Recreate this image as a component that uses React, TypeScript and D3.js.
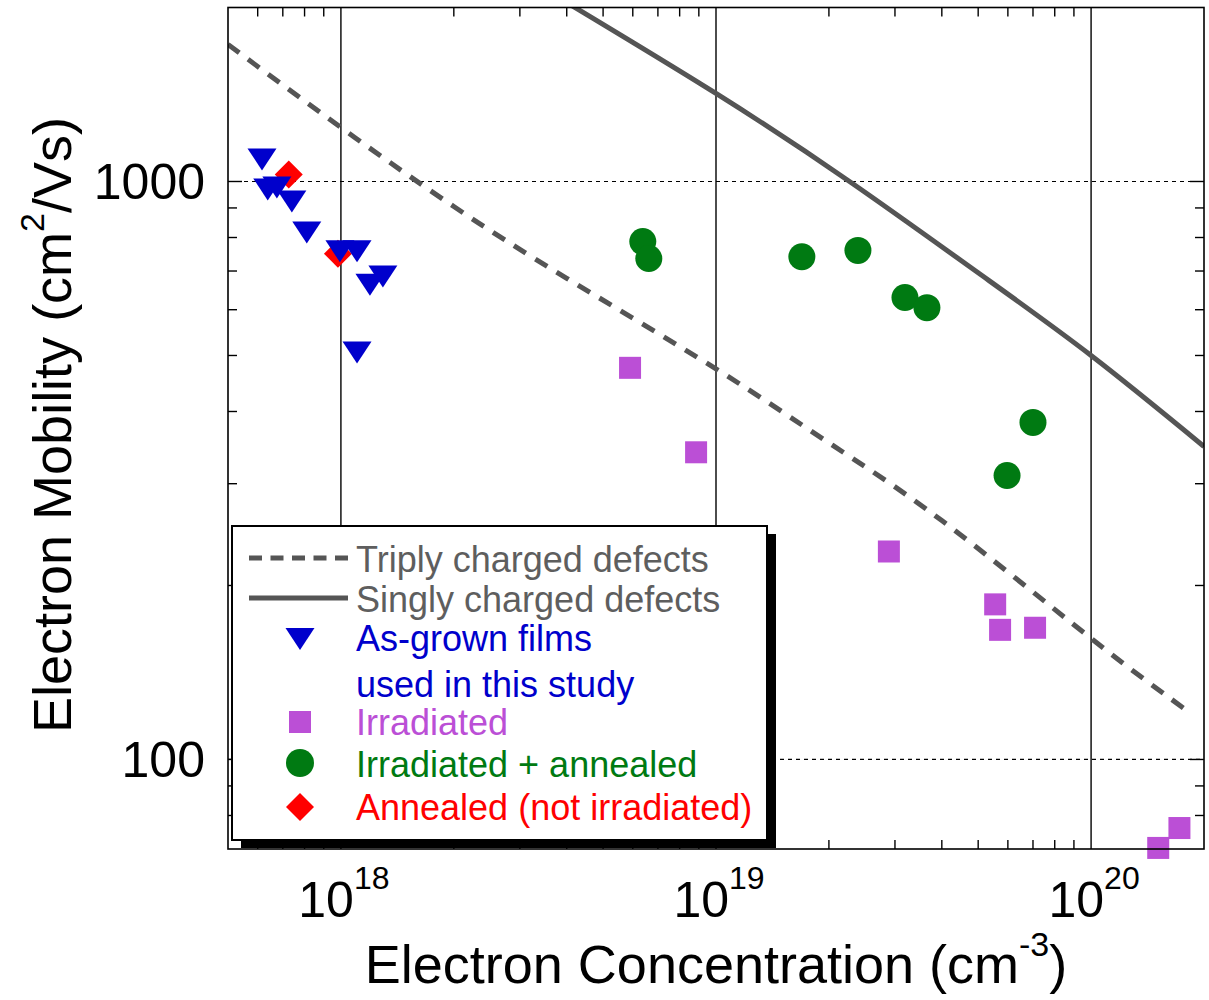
import React from "react";
import * as d3 from "d3";

const W = 1209;
const H = 1000;

// axis domains & ticks
const xDomain = [5e17, 2e20];
const yDomain = [70, 2000];
const xMajorTicks = [1e18, 1e19, 1e20];
const xTickExponents = ["18", "19", "20"];
const yMajorTicks = [1000, 100];
const yTickLabels = ["1000", "100"];

// data: As-grown films (blue down triangles)
const asGrownX = [6.16e17, 6.38e17, 6.75e17, 7.4e17, 8.11e17, 9.94e17, 1.104e18, 1.195e18, 1.294e18, 1.104e18];
const asGrownY = [1092, 969, 976, 923, 816, 757, 757, 663, 685, 506];
// Irradiated (purple squares)
const irrX = [5.9e18, 8.85e18, 2.89e19, 5.55e19, 5.72e19, 7.09e19, 1.72e20, 1.51e20];
const irrY = [476, 340, 229, 185.5, 167.6, 169, 76.1, 70.3];
// Irradiated + annealed (green circles)
const irrAnnX = [6.38e18, 6.62e18, 1.694e19, 2.39e19, 3.19e19, 3.65e19, 7.0e19, 5.97e19];
const irrAnnY = [787, 736, 741, 760, 630, 605, 383, 310];
// Annealed (not irradiated) (red diamonds)
const annX = [7.26e17, 9.82e17];
const annY = [1028, 750];

// model curves
const triplyX = [5e17, 1e18, 2e18, 4e18, 1e19, 2e19, 4e19, 1e20, 1.85e20];
const triplyY = [1726, 1240, 905, 680, 474, 353, 259, 162, 120];
const singlyX = [4e18, 1e19, 2.27e19, 5e19, 1e20, 2e20];
const singlyY = [2040, 1420, 1000, 695, 500, 348];

const legendLabels = [
  "Triply charged defects",
  "Singly charged defects",
  "As-grown films",
  "used in this study",
  "Irradiated",
  "Irradiated + annealed",
  "Annealed (not irradiated)",
];

const FONT = "'Liberation Sans', Arial, Helvetica, sans-serif";
const LINE_GRAY = "#555555";
const TEXT_GRAY = "#5e5e5e";
const BLUE = "#0000cc";
const PURPLE = "#bb4fd6";
const GREEN = "#007a12";
const RED = "#ff0000";

const L = 228, R = 1204, T = 7.5, B = 849;

function triPath(cx: number, cy: number) {
  return `M${cx - 14.5},${cy - 11}L${cx + 14.5},${cy - 11}L${cx},${cy + 11}Z`;
}
function diaPath(cx: number, cy: number) {
  return `M${cx},${cy - 14}L${cx + 14},${cy}L${cx},${cy + 14}L${cx - 14},${cy}Z`;
}

export default function App() {
  const x = d3.scaleLog().domain(xDomain).range([L, R]);
  const y = d3.scaleLog().domain(yDomain).range([B, T]);

  const xMinor: number[] = [];
  for (let e = 17; e <= 20; e++) {
    for (let m = 2; m <= 9; m++) {
      const v = m * Math.pow(10, e);
      if (v > xDomain[0] * 1.0001 && v < xDomain[1] * 0.9999) xMinor.push(v);
    }
  }
  const yMinor: number[] = [];
  for (let e = 1; e <= 3; e++) {
    for (let m = 2; m <= 9; m++) {
      const v = m * Math.pow(10, e);
      if (v > yDomain[0] * 1.0001 && v < yDomain[1] * 0.9999) yMinor.push(v);
    }
  }

  const line = d3
    .line<[number, number]>()
    .x((d) => x(d[0]))
    .y((d) => y(d[1]))
    .curve(d3.curveNatural);

  const triplyPts = triplyX.map((v, i) => [v, triplyY[i]] as [number, number]);
  const singlyPts = singlyX.map((v, i) => [v, singlyY[i]] as [number, number]);

  const tick = 9;

  // legend geometry
  const lgX = 232, lgY = 526, lgW = 535, lgH = 314;
  const rowBase = [572, 612, 651, 697, 735, 777, 820];
  const rowColors = [TEXT_GRAY, TEXT_GRAY, BLUE, BLUE, PURPLE, GREEN, RED];

  return (
    <svg width={W} height={H} style={{ position: "absolute", left: 0, top: 0, background: "#fff" }} fontFamily={FONT}>
      <defs>
        <clipPath id="plotClip">
          <rect x={L} y={T} width={R - L} height={B - T} />
        </clipPath>
      </defs>
      <rect x={0} y={0} width={W} height={H} fill="#fff" />

      {/* grid */}
      {xMajorTicks.map((v, i) => (
        <line key={"gx" + i} x1={x(v)} x2={x(v)} y1={T} y2={B} stroke="#000" strokeWidth={1.4} />
      ))}
      {yMajorTicks.map((v, i) => (
        <line key={"gy" + i} x1={L} x2={R} y1={y(v)} y2={y(v)} stroke="#000" strokeWidth={1.2} strokeDasharray="4 4" />
      ))}

      {/* minor ticks */}
      {xMinor.map((v, i) => (
        <g key={"xm" + i}>
          <line x1={x(v)} x2={x(v)} y1={B} y2={B - tick} stroke="#000" strokeWidth={1.4} />
          <line x1={x(v)} x2={x(v)} y1={T} y2={T + tick} stroke="#000" strokeWidth={1.4} />
        </g>
      ))}
      {yMinor.map((v, i) => (
        <g key={"ym" + i}>
          <line x1={L} x2={L + tick} y1={y(v)} y2={y(v)} stroke="#000" strokeWidth={1.4} />
          <line x1={R} x2={R - tick} y1={y(v)} y2={y(v)} stroke="#000" strokeWidth={1.4} />
        </g>
      ))}
      {yMajorTicks.map((v, i) => (
        <g key={"yM" + i}>
          <line x1={L} x2={L + 14} y1={y(v)} y2={y(v)} stroke="#000" strokeWidth={1.4} />
          <line x1={R} x2={R - 14} y1={y(v)} y2={y(v)} stroke="#000" strokeWidth={1.4} />
        </g>
      ))}

      {/* curves */}
      <g clipPath="url(#plotClip)">
        <path d={line(triplyPts) || ""} fill="none" stroke={LINE_GRAY} strokeWidth={5} strokeDasharray="14 11" />
        <path d={line(singlyPts) || ""} fill="none" stroke={LINE_GRAY} strokeWidth={5} />
      </g>

      {/* markers */}
      {irrAnnX.map((v, i) => (
        <circle key={"g" + i} cx={x(v)} cy={y(irrAnnY[i])} r={13.5} fill={GREEN} />
      ))}
      {irrX.map((v, i) => (
        <rect key={"p" + i} x={x(v) - 11} y={y(irrY[i]) - 11} width={22} height={22} fill={PURPLE} />
      ))}
      {annX.map((v, i) => (
        <path key={"r" + i} d={diaPath(x(v), y(annY[i]))} fill={RED} />
      ))}
      {asGrownX.map((v, i) => (
        <path key={"b" + i} d={triPath(x(v), y(asGrownY[i]))} fill={BLUE} />
      ))}

      {/* frame */}
      <rect x={L} y={T} width={R - L} height={B - T} fill="none" stroke="#000" strokeWidth={1.6} />

      {/* legend */}
      <rect x={lgX + 9} y={lgY + 8} width={lgW} height={lgH} fill="#000" />
      <rect x={lgX} y={lgY} width={lgW} height={lgH} fill="#fff" stroke="#000" strokeWidth={2} />
      <line x1={249} x2={348} y1={558} y2={558} stroke={LINE_GRAY} strokeWidth={5} strokeDasharray="13 8.5" />
      <line x1={249} x2={348} y1={598} y2={598} stroke={LINE_GRAY} strokeWidth={5} />
      <path d={triPath(300, 639)} fill={BLUE} />
      <rect x={289} y={711} width={22} height={22} fill={PURPLE} />
      <circle cx={300} cy={763} r={14} fill={GREEN} />
      <path d={diaPath(300, 807)} fill={RED} />
      {legendLabels.map((t, i) => (
        <text key={"lt" + i} x={356} y={rowBase[i]} fontSize={36} fill={rowColors[i]}>
          {t}
        </text>
      ))}

      {/* y tick labels */}
      {yMajorTicks.map((v, i) => (
        <text key={"yl" + i} x={205} y={y(v) + 18} fontSize={50} textAnchor="end" fill="#000">
          {yTickLabels[i]}
        </text>
      ))}
      {/* x tick labels */}
      {xMajorTicks.map((v, i) => (
        <text key={"xl" + i} x={x(v) + 3} y={917} fontSize={50} textAnchor="middle" fill="#000">
          10
          <tspan fontSize={32} dy={-28}>
            {xTickExponents[i]}
          </tspan>
        </text>
      ))}

      {/* axis titles */}
      <text x={716} y={983} fontSize={54} textAnchor="middle" fill="#000">
        Electron Concentration (cm
        <tspan fontSize={34} dy={-27}>-3</tspan>
        <tspan dy={27}>)</tspan>
      </text>
      <text transform="translate(71,425) rotate(-90)" fontSize={54} textAnchor="middle" fill="#000">
        Electron Mobility (cm
        <tspan fontSize={34} dy={-27}>2</tspan>
        <tspan dy={27}>/Vs)</tspan>
      </text>
    </svg>
  );
}
